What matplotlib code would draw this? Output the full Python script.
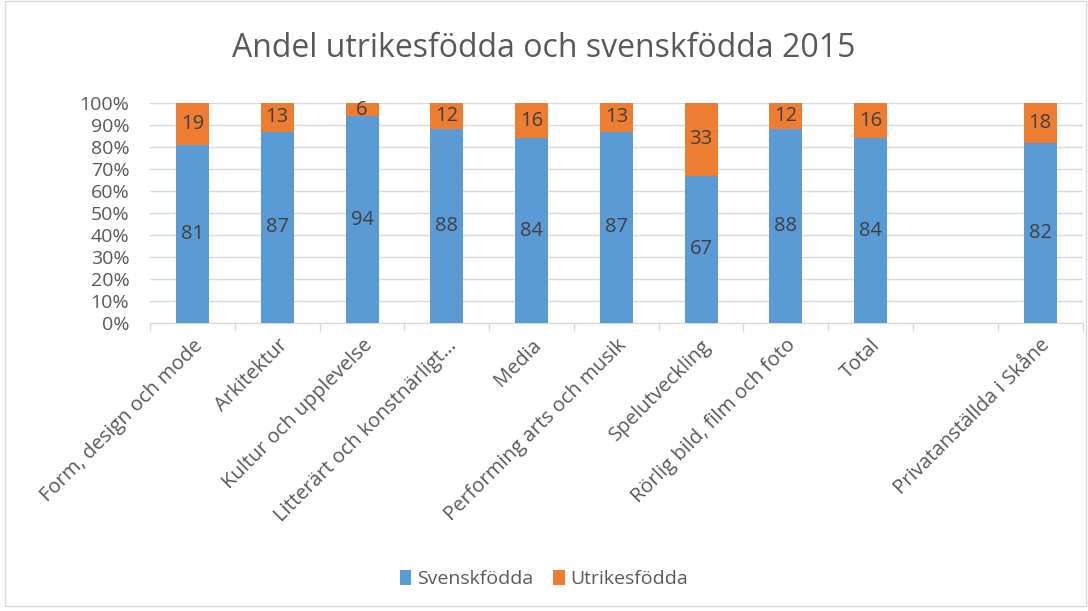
import matplotlib.pyplot as plt
from matplotlib.patches import Rectangle
import numpy as np

# Data (percent)
categories = [
    "Form, design och mode", "Arkitektur", "Kultur och upplevelse",
    "Litterärt och konstnärligt…", "Media", "Performing arts och musik",
    "Spelutveckling", "Rörlig bild, film och foto", "Total", "",
    "Privatanställda i Skåne",
]
svenskfodda = [81, 87, 94, 88, 84, 87, 67, 88, 84, None, 82]
utrikesfodda = [19, 13, 6, 12, 16, 13, 33, 12, 16, None, 18]

BLUE = "#5b9bd5"
ORANGE = "#ed7d31"
TXT = "#595959"
LBL = "#404040"

plt.rcParams["font.family"] = ["Open Sans", "DejaVu Sans"]

fig = plt.figure(figsize=(10.88, 6.11), dpi=100)
ax = fig.add_axes([0.138, 0.4714, 0.857, 0.36])

x = np.arange(len(categories))
sv = np.array([np.nan if v is None else v for v in svenskfodda], dtype=float)
ut = np.array([np.nan if v is None else v for v in utrikesfodda], dtype=float)
tot = sv + ut
sv_pct = sv / tot * 100
ut_pct = ut / tot * 100

w = 0.39
b1 = ax.bar(x, sv_pct, width=w, color=BLUE, label="Svenskfödda", zorder=3)
b2 = ax.bar(x, ut_pct, width=w, bottom=sv_pct, color=ORANGE, label="Utrikesfödda", zorder=3)

for i in range(len(categories)):
    if np.isnan(sv[i]):
        continue
    ax.text(x[i], sv_pct[i] / 2, f"{int(sv[i])}", ha="center", va="center",
            fontsize=14.5, color=LBL, zorder=4)
    ax.text(x[i], sv_pct[i] + ut_pct[i] / 2, f"{int(ut[i])}", ha="center", va="center",
            fontsize=14.5, color=LBL, zorder=4)

ax.set_xlim(-0.5, len(categories) - 0.5)
ax.set_ylim(0, 100)
ax.set_yticks(np.arange(0, 101, 10))
ax.set_yticklabels([f"{v}%" for v in range(0, 101, 10)], fontsize=14, color=TXT)
ax.yaxis.grid(True, color="#d9d9d9", linewidth=1, zorder=0)
ax.tick_params(axis="y", length=0, pad=15)

ax.set_xticks(x)
ax.set_xticklabels(categories, rotation=45, ha="right", rotation_mode="anchor",
                   fontsize=14.5, color=TXT)
ax.tick_params(axis="x", length=0, pad=9)
ax.set_xticks(np.arange(-0.5, len(categories), 1), minor=True)
ax.tick_params(axis="x", which="minor", length=6, color="#d9d9d9", width=1)

for s in ["top", "right", "left"]:
    ax.spines[s].set_visible(False)
ax.spines["bottom"].set_color("#d9d9d9")

fig.text(0.5, 0.921, "Andel utrikesfödda och svenskfödda 2015", ha="center", va="center",
         fontsize=23, color=TXT)

fig.legend(handles=[b1, b2], loc="center", bbox_to_anchor=(0.5, 0.052), ncol=2,
           frameon=False, fontsize=14, handlelength=0.6, handleheight=0.8,
           columnspacing=1.0, handletextpad=0.3, labelcolor=TXT)

fig.patches.append(Rectangle((0.005, 0.008), 0.993, 0.99, transform=fig.transFigure,
                             fill=False, edgecolor="#d9d9d9", linewidth=1))

fig.savefig("out.png", dpi=100)
